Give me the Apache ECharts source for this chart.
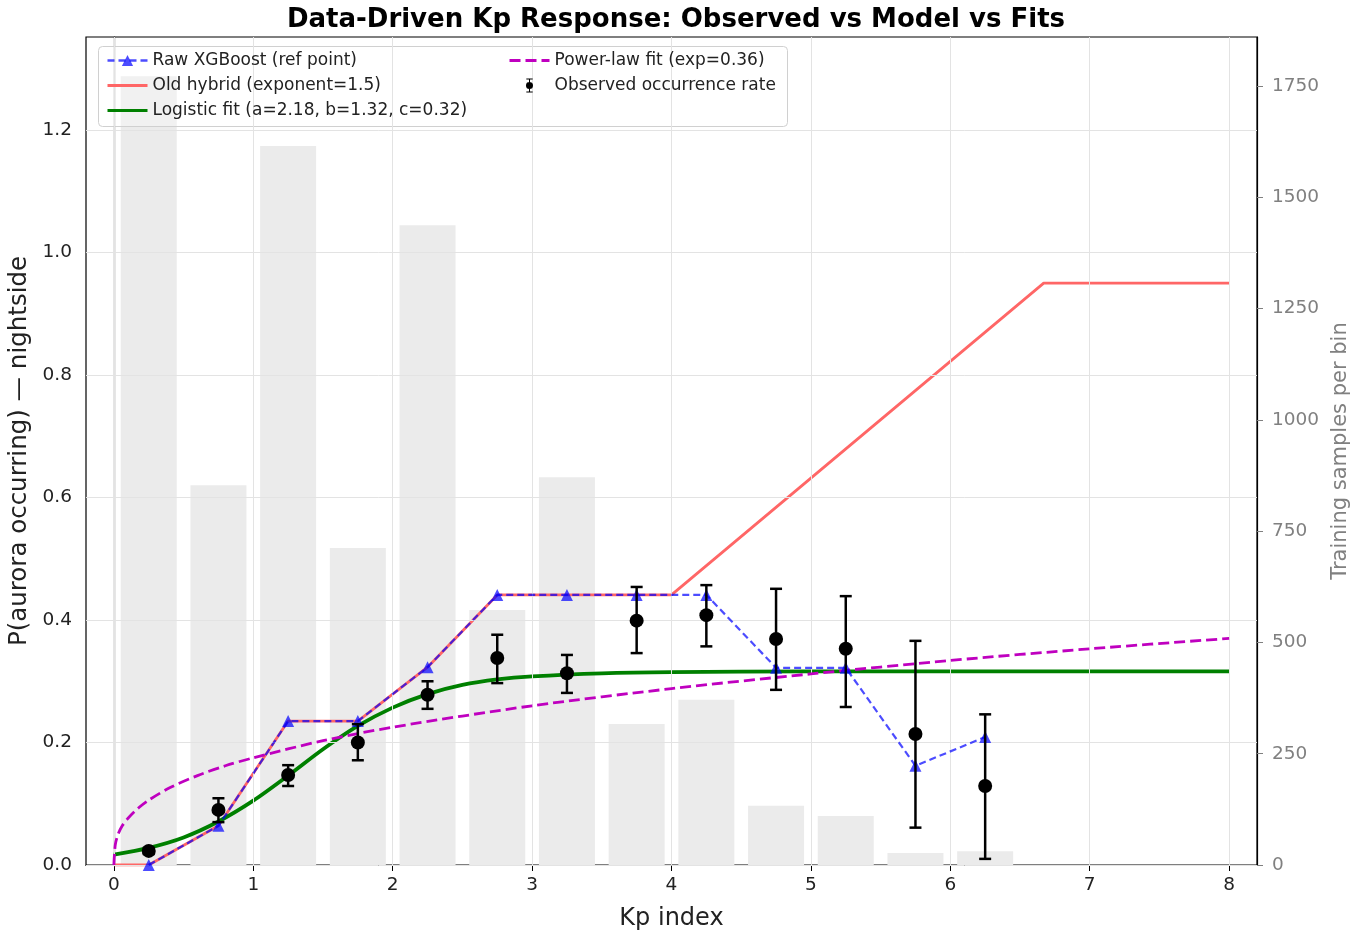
<!DOCTYPE html>
<html>
<head>
<meta charset="utf-8">
<script src="https://cdn.jsdelivr.net/npm/echarts@6/dist/echarts.min.js"></script>
<style>html,body{margin:0;padding:0;background:#fff;}#c{width:1357px;height:931px;}</style>
</head>
<body>
<div id="c"></div>
<script>
// ---- data ----
const binCenters = [0.25, 0.75, 1.25, 1.75, 2.25, 2.75, 3.25, 3.75, 4.25, 4.75, 5.25, 5.75, 6.25];
const binCounts = [1772, 853, 1615, 712, 1437, 573, 871, 317, 371, 133, 110, 27, 31];
const observed = [0.023, 0.090, 0.147, 0.200, 0.278, 0.338, 0.313, 0.399, 0.408, 0.369, 0.353, 0.214, 0.129];
const obsLow = [0.018, 0.070, 0.129, 0.171, 0.255, 0.297, 0.281, 0.346, 0.357, 0.286, 0.258, 0.061, 0.010];
const obsHigh = [0.028, 0.109, 0.163, 0.230, 0.300, 0.376, 0.343, 0.454, 0.457, 0.451, 0.439, 0.366, 0.246];
const xgbRaw = [0.000, 0.064, 0.235, 0.235, 0.323, 0.441, 0.441, 0.441, 0.441, 0.322, 0.322, 0.162, 0.209];
const hybridX = [0, 0.25, 0.75, 1.25, 1.75, 2.25, 2.75, 3.25, 3.75, 4.0, 6.67, 8.0];
const hybridY = [0, 0, 0.064, 0.235, 0.235, 0.323, 0.441, 0.441, 0.441, 0.441, 0.95, 0.95];
const logisticX = [0, 0.25, 0.5, 0.75, 1, 1.25, 1.5, 1.75, 2, 2.25, 2.5, 2.75, 3, 3.5, 4, 5, 6, 7, 8];
const logisticY = [0.017, 0.028, 0.045, 0.071, 0.105, 0.146, 0.189, 0.227, 0.257, 0.279, 0.294, 0.303, 0.308, 0.313, 0.315, 0.316, 0.316, 0.316, 0.316];
const powerX = [0, 0.01, 0.03, 0.06, 0.1, 0.18, 0.25, 0.4, 0.6, 0.8, 1, 1.5, 2, 3, 4, 5, 6, 7, 8];
const powerY = [0, 0.033, 0.050, 0.064, 0.076, 0.094, 0.106, 0.126, 0.146, 0.162, 0.175, 0.203, 0.225, 0.260, 0.288, 0.312, 0.334, 0.353, 0.370];
const xTicks = [0, 1, 2, 3, 4, 5, 6, 7, 8];
const yLeftTicks = [0, 0.2, 0.4, 0.6, 0.8, 1.0, 1.2];
const yRightTicks = [0, 250, 500, 750, 1000, 1250, 1500, 1750];

const zip = (a, b) => a.map((v, i) => [v, b[i]]);

const chart = echarts.init(document.getElementById('c'), null, {renderer: 'canvas'});
const FONT = 'DejaVu Sans';
const errIcon = 'path://M3,0H13V1.6H3Z M7.2,0H8.8V22H7.2Z M3,20.4H13V22H3Z M8,5.5A5.5,5.5,0,1,1,7.99,5.5Z';
const GRID = '#e3e3e3';
const legLine = (name) => ({name: name, itemStyle: {opacity: 0}, lineStyle: {width: 3}});

const option = {
  backgroundColor: '#fff',
  animation: false,
  textStyle: {fontFamily: FONT},
  title: {
    text: 'Data-Driven Kp Response: Observed vs Model vs Fits',
    left: 671, textAlign: 'center', top: 2,
    textStyle: {fontFamily: FONT, fontSize: 26, fontWeight: 'bold', color: '#000'}
  },
  grid: {left: 86, right: 100, top: 37, bottom: 66, containLabel: false, outerBoundsMode: 'none',
    show: true, borderColor: '#000', borderWidth: 1.2, backgroundColor: 'transparent'},
  graphic: [{
    type: 'rect', z: 5, left: 98, top: 46,
    shape: {width: 689, height: 80, r: 4},
    style: {fill: 'rgba(255,255,255,0.3)', stroke: '#d0d0d0', lineWidth: 1}
  }],
  legend: [{
    z: 6, left: 101, top: 47, orient: 'vertical', itemGap: 8, itemWidth: 40, itemHeight: 14,
    textStyle: {fontFamily: FONT, fontSize: 17, color: '#222'},
    data: [
      {name: 'Raw XGBoost (ref point)', lineStyle: {width: 2.5}},
      legLine('Old hybrid (exponent=1.5)'),
      legLine('Logistic fit (a=2.18, b=1.32, c=0.32)')
    ]
  }, {
    z: 6, left: 503, top: 47, orient: 'vertical', itemGap: 8, itemWidth: 40, itemHeight: 14,
    textStyle: {fontFamily: FONT, fontSize: 17, color: '#222'},
    data: [
      legLine('Power-law fit (exp=0.36)'),
      {name: 'Observed occurrence rate', icon: errIcon, itemStyle: {color: '#000'}}
    ]
  }],
  xAxis: {
    type: 'value', min: -0.2, max: 8.2,
    name: 'Kp index', nameLocation: 'middle', nameGap: 42,
    nameTextStyle: {fontFamily: FONT, fontSize: 24, color: '#222'},
    axisLine: {onZero: false, lineStyle: {color: '#000', width: 1.2}},
    axisTick: {show: true, length: 6, customValues: xTicks, lineStyle: {color: '#000'}},
    axisLabel: {fontFamily: FONT, fontSize: 18.5, color: '#222', margin: 11, customValues: xTicks},
    splitLine: {show: false}
  },
  yAxis: [{
    type: 'value', min: 0, max: 1.352, position: 'left',
    name: 'P(aurora occurring) — nightside', nameLocation: 'middle', nameGap: 53,
    nameTextStyle: {fontFamily: FONT, fontSize: 24.5, color: '#222'},
    axisLine: {show: true, lineStyle: {color: '#000', width: 1.2}},
    axisTick: {show: true, length: 6, customValues: yLeftTicks, lineStyle: {color: '#000'}},
    axisLabel: {fontFamily: FONT, fontSize: 18.5, color: '#222', margin: 14, customValues: yLeftTicks,
      formatter: v => v.toFixed(1)},
    splitLine: {show: false}
  }, {
    type: 'value', min: 0, max: 1860, position: 'right',
    name: 'Training samples per bin', nameLocation: 'middle', nameGap: 69,
    nameTextStyle: {fontFamily: FONT, fontSize: 21, color: '#808080'},
    axisLine: {show: true, lineStyle: {color: '#000', width: 1.2}},
    axisTick: {show: true, length: 6, customValues: yRightTicks, lineStyle: {color: '#808080'}},
    axisLabel: {fontFamily: FONT, fontSize: 18.5, color: '#808080', margin: 15, customValues: yRightTicks,
      formatter: v => String(v)},
    splitLine: {show: false}
  }],
  series: [
    {
      name: 'Training samples', type: 'bar', yAxisIndex: 1, z: 1,
      barWidth: 56, itemStyle: {color: '#ebebeb'},
      data: zip(binCenters, binCounts),
      markLine: {
        silent: true, symbol: 'none', animation: false,
        label: {show: false},
        lineStyle: {color: GRID, width: 1, type: 'solid'},
        emphasis: {disabled: true},
        data: xTicks.map(v => ({xAxis: v}))
      }
    },
    {
      name: 'hgrid', type: 'line', yAxisIndex: 0, z: 1, data: [],
      markLine: {
        silent: true, symbol: 'none', animation: false,
        label: {show: false},
        lineStyle: {color: GRID, width: 1, type: 'solid'},
        emphasis: {disabled: true},
        data: yLeftTicks.map(v => ({yAxis: v}))
      }
    },
    {
      name: 'Old hybrid (exponent=1.5)', type: 'line', z: 3,
      showSymbol: false, symbol: 'none',
      lineStyle: {color: '#ff6666', width: 2.8}, itemStyle: {color: '#ff6666'},
      data: zip(hybridX, hybridY)
    },
    {
      name: 'Logistic fit (a=2.18, b=1.32, c=0.32)', type: 'line', z: 4,
      symbol: 'none', smooth: 0.3,
      lineStyle: {color: '#008000', width: 3.8}, itemStyle: {color: '#008000'},
      data: zip(logisticX, logisticY)
    },
    {
      name: 'Power-law fit (exp=0.36)', type: 'line', z: 5,
      symbol: 'none', smooth: 0.3,
      lineStyle: {color: '#bf00bf', width: 2.8, type: [11, 5]}, itemStyle: {color: '#bf00bf'},
      data: zip(powerX, powerY)
    },
    {
      name: 'Raw XGBoost (ref point)', type: 'line', z: 6,
      symbol: 'triangle', symbolSize: 12, showAllSymbol: true,
      lineStyle: {color: 'rgba(0,0,255,0.7)', width: 2.2, type: [7, 4]},
      itemStyle: {color: 'rgba(0,0,255,0.7)'},
      data: zip(binCenters, xgbRaw)
    },
    {
      name: 'Observed occurrence rate', type: 'custom', z: 7,
      renderItem: function (params, api) {
        const x = api.value(0);
        const top = api.coord([x, api.value(2)]);
        const bot = api.coord([x, api.value(1)]);
        const cw = 6;
        const st = {stroke: '#000', lineWidth: 2.5};
        return {type: 'group', children: [
          {type: 'line', shape: {x1: top[0], y1: top[1], x2: bot[0], y2: bot[1]}, style: st},
          {type: 'line', shape: {x1: top[0] - cw, y1: top[1], x2: top[0] + cw, y2: top[1]}, style: st},
          {type: 'line', shape: {x1: bot[0] - cw, y1: bot[1], x2: bot[0] + cw, y2: bot[1]}, style: st}
        ]};
      },
      itemStyle: {color: '#000'},
      data: binCenters.map((c, i) => [c, obsLow[i], obsHigh[i]])
    },
    {
      name: 'Observed occurrence rate', type: 'scatter', z: 8,
      symbol: 'circle', symbolSize: 14, itemStyle: {color: '#000', opacity: 1},
      data: zip(binCenters, observed)
    }
  ]
};
chart.setOption(option);
</script>
</body>
</html>
